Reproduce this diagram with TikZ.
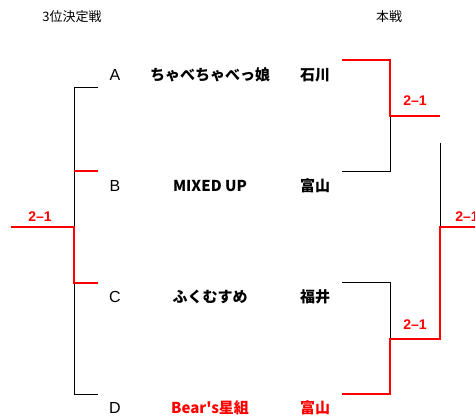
\documentclass[tikz,border=0pt]{standalone}
\usepackage{fontspec}
\setmainfont{Liberation Sans}
\newfontfamily\jp{Noto Sans CJK JP}
\begin{document}
\begin{tikzpicture}[x=1pt,y=-1pt,
  thin/.style={black,line width=1pt},
  win/.style={red,line width=2.6pt},
  letter/.style={font=\fontsize{16}{16}\selectfont,inner sep=0pt},
  team/.style={font=\jp\bfseries\fontsize{15}{15}\selectfont,inner sep=0pt},
  score/.style={red,font=\bfseries\fontsize{14}{14}\selectfont,inner sep=0pt},
  head/.style={font=\jp\fontsize{13}{13}\selectfont,inner sep=0pt}]
\useasboundingbox (0,0) rectangle (475,420);
% headings
\node[head] (h3) at (72,17) {3位決定戦};
\node[head] (hm) at (389,17) {本戦};
% letters
\node[letter] (la) at (115,75) {A};
\node[letter] (lb) at (115,186) {B};
\node[letter] (lc) at (115,297) {C};
\node[letter] (ld) at (115,408) {D};
% teams
\node[team] (ta) at (210,75) {ちゃべちゃべっ娘};
\node[team] (tb) at (210,186) {MIXED UP};
\node[team] (tc) at (210,297) {ふくむすめ};
\node[team,red] (td) at (210,408) {Bear's星組};
% prefectures
\node[team] (pa) at (315,75) {石川};
\node[team] (pb) at (315,186) {富山};
\node[team] (pc) at (315,297) {福井};
\node[team,red] (pd) at (315,408) {富山};
% scores
\node[score] (s3) at (40,217) {2–1};
\node[score] (s1) at (415,101) {2–1};
\node[score] (s2) at (415,325) {2–1};
\node[score] (sf) at (467,217) {2–1};
% left bracket coordinates
\coordinate (a0) at (74,88);  \coordinate (a1) at (98,88);
\coordinate (b0) at (74,171); \coordinate (b1) at (98,171);
\coordinate (m0) at (74,227); \coordinate (ml) at (11,227);
\coordinate (c0) at (74,283); \coordinate (c1) at (98,283);
\coordinate (d0) at (74,394); \coordinate (d1) at (98,394);
\draw[thin] (a1) -- (a0) -- (d0) -- (d1);
\draw[win] (b0) -- (b1);
\draw[win] (ml) -- (m0) -- (c0) -- (c1);
% right bracket coordinates
\coordinate (ra) at (342,60);  \coordinate (rax) at (390,60);
\coordinate (rb) at (342,172); \coordinate (rbx) at (390,172);
\coordinate (r1) at (390,116); \coordinate (r1e) at (440,116);
\coordinate (rc) at (342,283); \coordinate (rcx) at (390,283);
\coordinate (rd) at (342,394); \coordinate (rdx) at (390,394);
\coordinate (r2) at (390,339); \coordinate (r2e) at (440,339);
\coordinate (ft) at (440,143); \coordinate (fm) at (440,227);
\coordinate (fe) at (476,227);
\draw[thin] (rb) -- (rbx) -- (r1);
\draw[thin] (rc) -- (rcx) -- (r2);
\draw[thin] (ft) -- (fm);
\draw[win] (ra) -- (rax) -- (r1) -- (r1e);
\draw[win] (rd) -- (rdx) -- (r2) -- (r2e) -- (fm) -- (fe);
\end{tikzpicture}
\end{document}
